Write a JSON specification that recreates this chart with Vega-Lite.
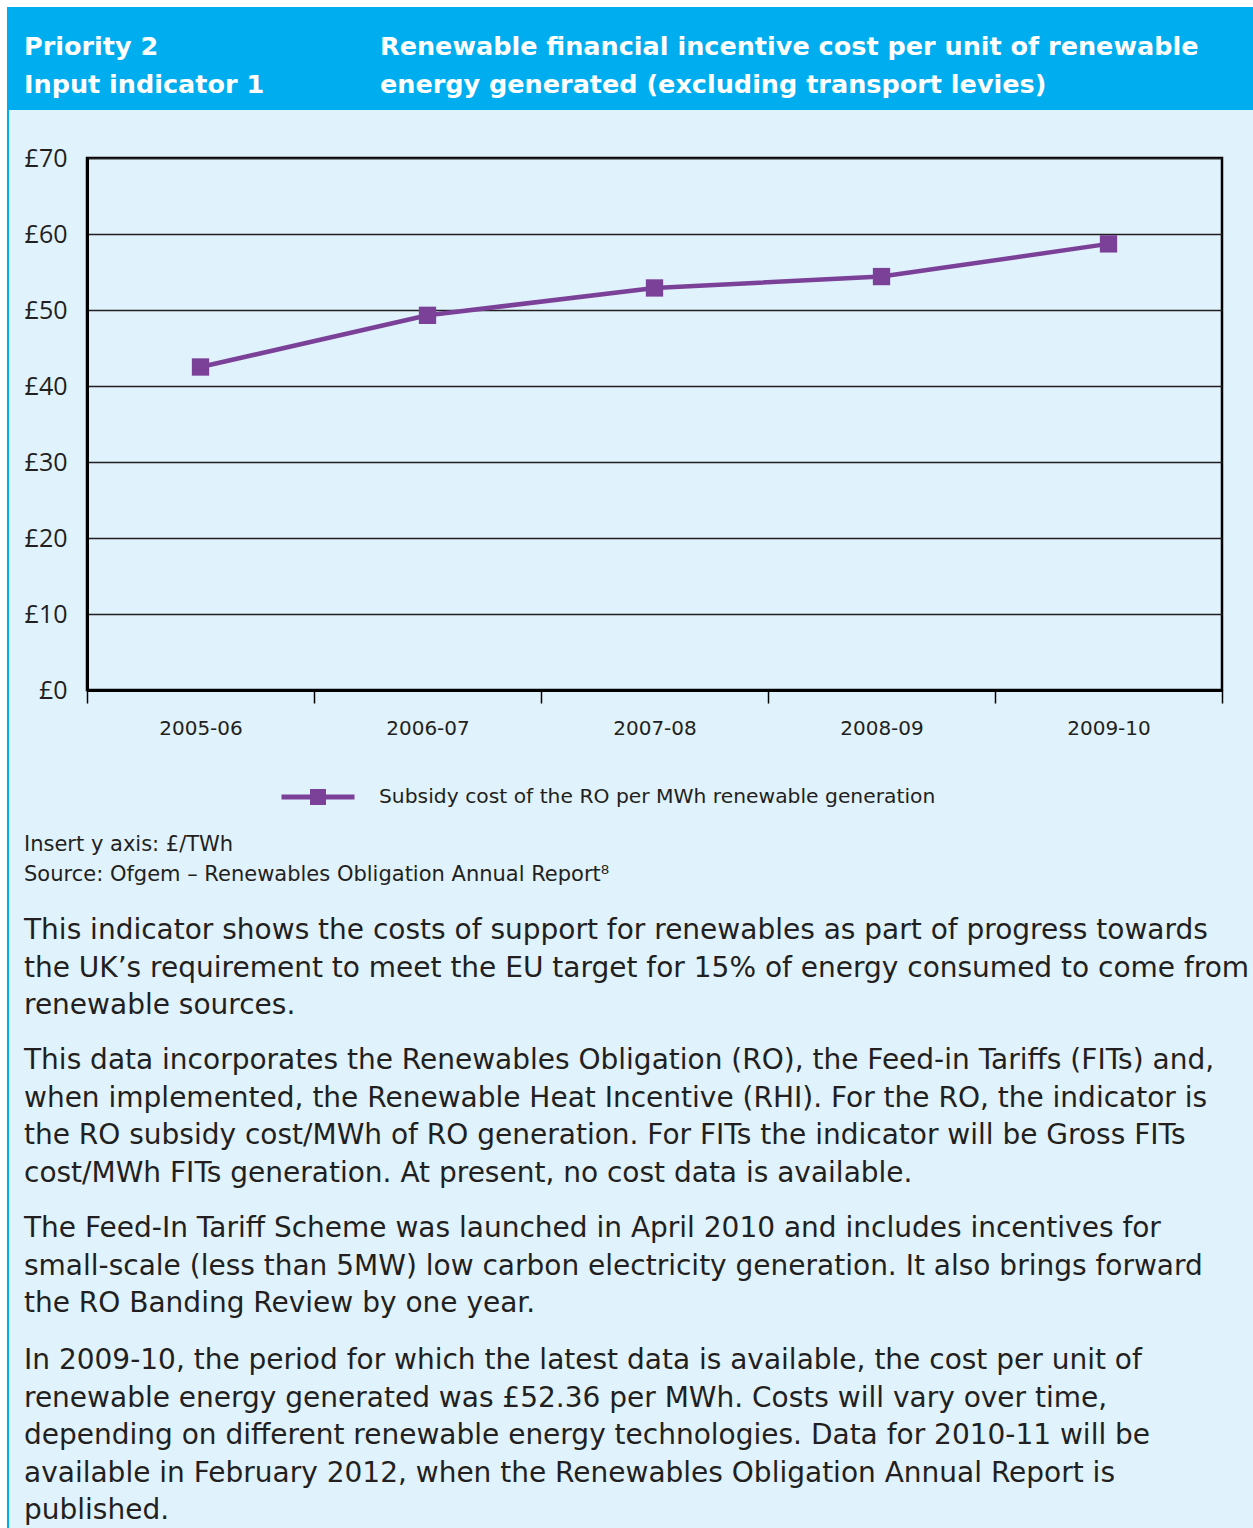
{
  "$schema": "https://vega.github.io/schema/vega-lite/v6.json",
  "background": "#E0F2FB",
  "padding": 0,
  "config": {
    "view": {"stroke": null},
    "font": "DejaVu Sans",
    "text": {"color": "#231F20"}
  },
  "spacing": 0,
  "vconcat": [
    {"width": 1253, "height": 7, "view": {"fill": "#FFFFFF", "stroke": null}, "data": {"values": []}, "mark": "point"},
    {
      "spacing": 0,
      "hconcat": [
        {"width": 7, "height": 1521, "view": {"fill": "#FFFFFF", "stroke": null}, "data": {"values": []}, "mark": "point"},
        {"width": 2, "height": 1521, "view": {"fill": "#00AEEF", "stroke": null}, "data": {"values": []}, "mark": "point"},
        {
          "spacing": 0,
          "vconcat": [
            {
              "width": 1244, "height": 103,
              "view": {"fill": "#00AEEF", "stroke": null},
              "layer": [
                {
                  "data": {"values": [{"t": "Priority 2\nInput indicator 1"}]},
                  "mark": {"type": "text", "align": "left", "baseline": "top", "lineBreak": "\n", "lineHeight": 38, "fontSize": 25.5, "fontWeight": "bold", "color": "#FFFFFF", "dx": 15, "dy": 28},
                  "encoding": {
                    "text": {"field": "t", "type": "nominal"},
                    "x": {"datum": 0, "type": "quantitative", "scale": {"domain": [0, 1]}, "axis": null},
                    "y": {"datum": 1, "type": "quantitative", "scale": {"domain": [0, 1]}, "axis": null}
                  }
                },
                {
                  "data": {"values": [{"t": "Renewable financial incentive cost per unit of renewable\nenergy generated (excluding transport levies)"}]},
                  "mark": {"type": "text", "align": "left", "baseline": "top", "lineBreak": "\n", "lineHeight": 38, "fontSize": 25.5, "fontWeight": "bold", "color": "#FFFFFF", "dx": 371, "dy": 28},
                  "encoding": {
                    "text": {"field": "t", "type": "nominal"},
                    "x": {"datum": 0, "type": "quantitative", "scale": {"domain": [0, 1]}, "axis": null},
                    "y": {"datum": 1, "type": "quantitative", "scale": {"domain": [0, 1]}, "axis": null}
                  }
                }
              ]
            },
            {"width": 1244, "height": 34, "data": {"values": []}, "mark": "point"},
            {
              "spacing": 0,
              "hconcat": [
                {"width": 13, "height": 10, "data": {"values": []}, "mark": "point"},
                {
                  "width": 1135,
                  "height": 532,
                  "view": {"stroke": "#000000", "strokeWidth": 2.5},
                  "data": {"values": [
                    {"year": "2005-06", "cost": 42.5, "series": "Subsidy cost of the RO per MWh renewable generation"},
                    {"year": "2006-07", "cost": 49.3, "series": "Subsidy cost of the RO per MWh renewable generation"},
                    {"year": "2007-08", "cost": 52.9, "series": "Subsidy cost of the RO per MWh renewable generation"},
                    {"year": "2008-09", "cost": 54.4, "series": "Subsidy cost of the RO per MWh renewable generation"},
                    {"year": "2009-10", "cost": 58.7, "series": "Subsidy cost of the RO per MWh renewable generation"}
                  ]},
                  "mark": {"type": "line", "strokeWidth": 4.5, "color": "#7B4199", "point": {"shape": "square", "size": 300, "filled": true, "opacity": 1}},
                  "encoding": {
                    "x": {
                      "field": "year", "type": "ordinal",
                      "scale": {"type": "band", "paddingInner": 0, "paddingOuter": 0},
                      "axis": {
                        "title": null, "labelAngle": 0, "tickBand": "extent",
                        "domainColor": "#000000", "domainWidth": 3,
                        "tickColor": "#000000", "tickWidth": 1.5, "tickSize": 13,
                        "labelFontSize": 20, "labelColor": "#231F20", "labelPadding": 15, "labelFont": "DejaVu Sans"
                      }
                    },
                    "y": {
                      "field": "cost", "type": "quantitative",
                      "scale": {"domain": [0, 70], "nice": false},
                      "axis": {
                        "title": null, "values": [0, 10, 20, 30, 40, 50, 60, 70],
                        "labelExpr": "'£' + datum.value",
                        "grid": true, "gridColor": "#231F20", "gridWidth": 1.5,
                        "domainColor": "#000000", "domainWidth": 3,
                        "ticks": false, "labelPadding": 20,
                        "labelFontSize": 25, "labelColor": "#231F20", "labelFont": "Open Sans"
                      }
                    },
                    "color": {
                      "field": "series", "type": "nominal",
                      "scale": {"range": ["#7B4199"]},
                      "legend": {
                        "title": null, "orient": "none", "legendX": 279, "legendY": 758, "padding": 0,
                        "symbolType": "M-1,0H1M-0.15,-0.15H0.15V0.15H-0.15Z",
                        "symbolSize": 5329, "symbolStrokeWidth": 5,
                        "labelFontSize": 20.3, "labelColor": "#231F20", "labelOffset": 22, "labelFont": "DejaVu Sans", "labelLimit": 800,
                        "encode": {"symbols": {"update": {"fill": {"value": "#7B4199"}, "stroke": {"value": "#7B4199"}, "opacity": {"value": 1}}}}
                      }
                    }
                  }
                }
              ]
            },
            {"width": 1244, "height": 94, "data": {"values": []}, "mark": "point"},
            {
              "width": 1244, "height": 83,
              "data": {"values": [{"t": "Insert y axis: £/TWh\nSource: Ofgem – Renewables Obligation Annual Report⁸"}]},
              "mark": {"type": "text", "align": "left", "baseline": "top", "lineBreak": "\n", "lineHeight": 30, "fontSize": 21, "color": "#231F20", "dx": 15},
              "encoding": {
                "text": {"field": "t", "type": "nominal"},
                "x": {"datum": 0, "type": "quantitative", "scale": {"domain": [0, 1]}, "axis": null},
                "y": {"datum": 1, "type": "quantitative", "scale": {"domain": [0, 1]}, "axis": null}
              }
            },
            {
              "width": 1244, "height": 130,
              "data": {"values": [{"t": "This indicator shows the costs of support for renewables as part of progress towards\nthe UK’s requirement to meet the EU target for 15% of energy consumed to come from\nrenewable sources."}]},
              "mark": {"type": "text", "align": "left", "baseline": "top", "lineBreak": "\n", "lineHeight": 37.5, "fontSize": 28, "color": "#231F20", "dx": 15},
              "encoding": {
                "text": {"field": "t", "type": "nominal"},
                "x": {"datum": 0, "type": "quantitative", "scale": {"domain": [0, 1]}, "axis": null},
                "y": {"datum": 1, "type": "quantitative", "scale": {"domain": [0, 1]}, "axis": null}
              }
            },
            {
              "width": 1244, "height": 168,
              "data": {"values": [{"t": "This data incorporates the Renewables Obligation (RO), the Feed-in Tariffs (FITs) and,\nwhen implemented, the Renewable Heat Incentive (RHI). For the RO, the indicator is\nthe RO subsidy cost/MWh of RO generation. For FITs the indicator will be Gross FITs\ncost/MWh FITs generation. At present, no cost data is available."}]},
              "mark": {"type": "text", "align": "left", "baseline": "top", "lineBreak": "\n", "lineHeight": 37.5, "fontSize": 28, "color": "#231F20", "dx": 15},
              "encoding": {
                "text": {"field": "t", "type": "nominal"},
                "x": {"datum": 0, "type": "quantitative", "scale": {"domain": [0, 1]}, "axis": null},
                "y": {"datum": 1, "type": "quantitative", "scale": {"domain": [0, 1]}, "axis": null}
              }
            },
            {
              "width": 1244, "height": 132,
              "data": {"values": [{"t": "The Feed-In Tariff Scheme was launched in April 2010 and includes incentives for\nsmall-scale (less than 5MW) low carbon electricity generation. It also brings forward\nthe RO Banding Review by one year."}]},
              "mark": {"type": "text", "align": "left", "baseline": "top", "lineBreak": "\n", "lineHeight": 37.5, "fontSize": 28, "color": "#231F20", "dx": 15},
              "encoding": {
                "text": {"field": "t", "type": "nominal"},
                "x": {"datum": 0, "type": "quantitative", "scale": {"domain": [0, 1]}, "axis": null},
                "y": {"datum": 1, "type": "quantitative", "scale": {"domain": [0, 1]}, "axis": null}
              }
            },
            {
              "width": 1244, "height": 182,
              "data": {"values": [{"t": "In 2009-10, the period for which the latest data is available, the cost per unit of\nrenewable energy generated was £52.36 per MWh. Costs will vary over time,\ndepending on different renewable energy technologies. Data for 2010-11 will be\navailable in February 2012, when the Renewables Obligation Annual Report is\npublished."}]},
              "mark": {"type": "text", "align": "left", "baseline": "top", "lineBreak": "\n", "lineHeight": 37.5, "fontSize": 28, "color": "#231F20", "dx": 15},
              "encoding": {
                "text": {"field": "t", "type": "nominal"},
                "x": {"datum": 0, "type": "quantitative", "scale": {"domain": [0, 1]}, "axis": null},
                "y": {"datum": 1, "type": "quantitative", "scale": {"domain": [0, 1]}, "axis": null}
              }
            }
          ]
        }
      ]
    }
  ]
}
